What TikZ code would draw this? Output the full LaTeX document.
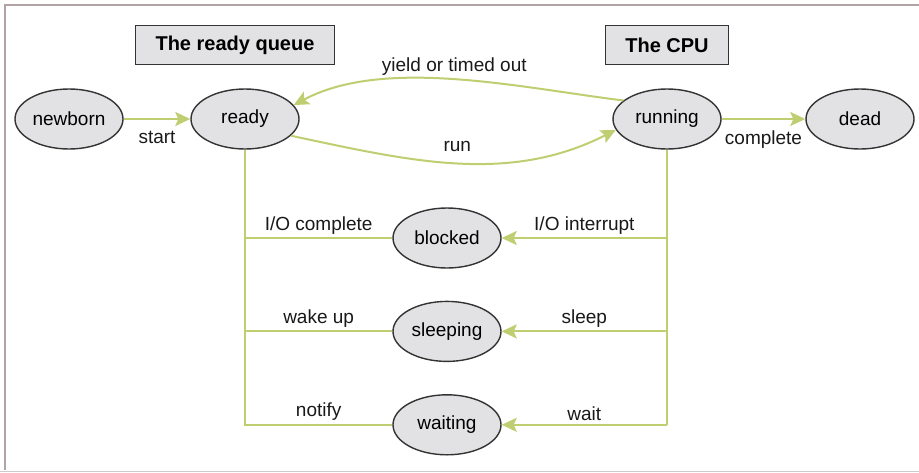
\documentclass[tikz,border=0pt]{standalone}
\usepackage{fontspec}
\setmainfont{Liberation Sans}
\usetikzlibrary{positioning,shapes.geometric,arrows.meta}

\definecolor{limeline}{RGB}{190,206,112}
\definecolor{procgray}{RGB}{226,226,228}
\definecolor{framegray}{RGB}{178,164,164}

\tikzstyle{proc} = [ellipse, draw=black!80, line width=1.4pt, fill=procgray, minimum width=108pt, minimum height=60pt, inner sep=0pt]
\tikzstyle{heading} = [rectangle, draw=black!80, line width=1.4pt, fill=procgray, font=\fontsize{20}{24}\selectfont\bfseries, minimum height=39pt, inner xsep=20pt]
\tikzstyle{line} = [draw, limeline, line width=2pt, -{Stealth[length=15pt, width=14pt, inset=3pt]}]
\tikzstyle{wire} = [draw, limeline, line width=2pt]
\tikzstyle{lbl} = [text=black!90, inner sep=3pt]

\begin{document}
\begin{tikzpicture}[x=1pt, y=-1pt, node distance=32pt, font=\fontsize{19}{22}\selectfont]
	\useasboundingbox (0,0) rectangle (919,472);
	\draw[framegray, line width=2pt] (919,5) -- (5,5) -- (5,470);
	\draw[black!20, line width=1pt] (0,471) -- (919,471);

	\node[heading] (queue) at (235,45) {The ready queue};
	\node[heading] (cpu) at (667,45) {The CPU};

	\node[proc] (newborn) at (69,119) {newborn};
	\node[proc] (ready) at (245,119) {ready};
	\node[proc] (running) at (667,119) {running};
	\node[proc] (dead) at (860,119) {dead};
	\node[proc] (blocked) at (447,238) {blocked};
	\node[proc, below=of blocked] (sleeping) {sleeping};
	\node[proc, below=of sleeping] (waiting) {waiting};

	\path[line] (newborn) -- node[lbl, below=8pt] {start} (ready);
	\path[line] (running) -- node[lbl, below=8pt] {complete} (dead);
	\path (running.157) edge[line, out=173, in=28, looseness=0.8] node[lbl, above] {yield or timed out} (ready.16);
	\path (ready.-20) edge[line, out=-12, in=207, looseness=0.95] node[lbl, above=7pt] {run} (running.192);

	\path[wire] (ready.south) |- (waiting.west);
	\path[wire] (blocked.west) -- node[lbl, above] {I/O complete} (ready.south |- blocked.west);
	\path[wire] (sleeping.west) -- node[lbl, above] {wake up} (ready.south |- sleeping.west);
	\path[wire] (waiting.west) -- node[lbl, above] {notify} (ready.south |- waiting.west);

	\path[wire] (running.south) -- (running.south |- waiting.east);
	\path[line] (running.south |- blocked.east) -- node[lbl, above] {I/O interrupt} (blocked.east);
	\path[line] (running.south |- sleeping.east) -- node[lbl, above] {sleep} (sleeping.east);
	\path[line] (running.south |- waiting.east) -- node[lbl, above] {wait} (waiting.east);
\end{tikzpicture}
\end{document}
